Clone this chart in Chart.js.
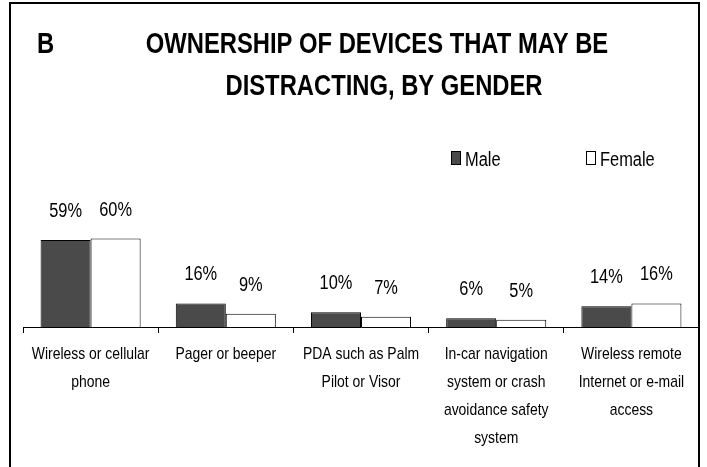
<!DOCTYPE html>
<html>
<head>
<meta charset="utf-8">
<script src="https://cdn.jsdelivr.net/npm/chart.js"></script>
<style>
  body { margin: 0; background: #fff; }
  canvas { display: block; }
</style>
</head>
<body>
<canvas id="devicesChart" width="707" height="467"></canvas>
<script>
// Liberation Sans squeezed horizontally stands in for Arial Narrow
const FONT = "'Liberation Sans', Arial, sans-serif";
const NARROW = 0.82;

const categories = [
    ['Wireless or cellular', 'phone'],
    ['Pager or beeper'],
    ['PDA such as Palm', 'Pilot or Visor'],
    ['In-car navigation', 'system or crash', 'avoidance safety', 'system'],
    ['Wireless remote', 'Internet or e-mail', 'access']
];
const maleValues = [59, 16, 10, 6, 14];
const femaleValues = [60, 9, 7, 5, 16];
const titleLines = ['OWNERSHIP OF DEVICES THAT MAY BE', 'DISTRACTING, BY GENDER'];
const panelLetter = 'B';

function narrowText(ctx, text, x, y, align) {
    ctx.save();
    ctx.translate(x, y);
    ctx.scale(NARROW, 1);
    ctx.textAlign = align;
    ctx.fillText(text, 0, 0);
    ctx.restore();
}

// frame, title, legend, category labels and value labels
const decorations = {
    id: 'decorations',
    afterDraw(chart) {
        const ctx = chart.ctx;
        ctx.save();
        ctx.strokeStyle = '#000';
        ctx.lineWidth = 2;
        ctx.strokeRect(10, 3, 689, 520);

        ctx.fillStyle = '#000';
        ctx.textBaseline = 'alphabetic';
        ctx.font = 'bold 29px ' + FONT;
        narrowText(ctx, panelLetter, 37, 53, 'left');
        narrowText(ctx, titleLines[0], 377, 53, 'center');
        narrowText(ctx, titleLines[1], 384, 95, 'center');

        // legend
        ctx.font = '20px ' + FONT;
        const legendX = [451, 586];
        chart.data.datasets.forEach((ds, i) => {
            ctx.fillStyle = ds.backgroundColor;
            ctx.strokeStyle = '#000';
            ctx.lineWidth = 1;
            ctx.fillRect(legendX[i] + 0.5, 151.5, 9, 13);
            ctx.strokeRect(legendX[i] + 0.5, 151.5, 9, 13);
            ctx.fillStyle = '#000';
            narrowText(ctx, ds.label, legendX[i] + 14, 166, 'left');
        });

        // category labels under the axis
        const xScale = chart.scales.x;
        ctx.font = '17px ' + FONT;
        categories.forEach((lines, i) => {
            const px = xScale.getPixelForTick(i);
            lines.forEach((line, k) => {
                narrowText(ctx, line, px, xScale.top + 32 + k * 28, 'center');
            });
        });

        // value labels
        ctx.font = '20px ' + FONT;
        chart.data.datasets.forEach((ds, i) => {
            chart.getDatasetMeta(i).data.forEach((bar, j) => {
                narrowText(ctx, ds.data[j] + '%', bar.x, bar.y - 23, 'center');
            });
        });
        ctx.restore();
    }
};

new Chart(document.getElementById('devicesChart').getContext('2d'), {
    type: 'bar',
    data: {
        labels: categories,
        datasets: [{
            label: 'Male',
            data: maleValues,
            backgroundColor: '#4a4a4a',
            borderColor: '#000',
            borderWidth: 1
        }, {
            label: 'Female',
            data: femaleValues,
            backgroundColor: '#ffffff',
            borderColor: '#000',
            borderWidth: 1
        }]
    },
    options: {
        responsive: false,
        animation: false,
        categoryPercentage: 0.74,
        barPercentage: 1.0,
        layout: { padding: { top: 150, left: 23, right: 8, bottom: 6 } },
        plugins: {
            legend: { display: false },
            title: { display: false },
            tooltip: { enabled: false }
        },
        scales: {
            x: {
                grid: { drawOnChartArea: false, color: '#000', tickLength: 6, offset: true },
                border: { display: true, color: '#000', width: 1 },
                ticks: {
                    // real text is drawn narrow by the plugin; these only reserve the space
                    color: 'rgba(0,0,0,0)',
                    padding: 8,
                    maxRotation: 0,
                    autoSkip: false,
                    font: { family: FONT, size: 15, lineHeight: 28 / 15 }
                }
            },
            y: {
                display: false,
                min: 0,
                max: 120
            }
        }
    },
    plugins: [decorations]
});
</script>
</body>
</html>
